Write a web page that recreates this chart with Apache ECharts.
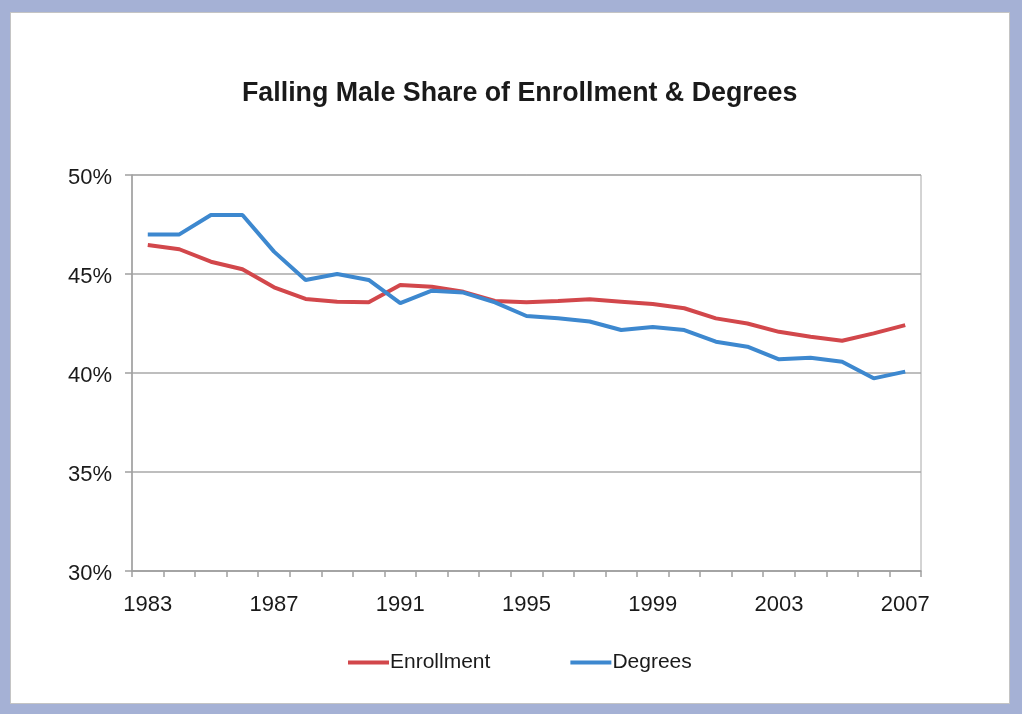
<!DOCTYPE html>
<html>
<head>
<meta charset="utf-8">
<script src="https://cdn.jsdelivr.net/npm/echarts@6/dist/echarts.min.js"></script>
<style>
html,body{margin:0;padding:0;width:1022px;height:714px;overflow:hidden;background:#a5b1d5;}
#frame{position:absolute;left:10px;top:12px;width:998px;height:690px;background:#fff;border:1px solid #c4c4c4;}
#chart{position:absolute;left:0;top:0;width:1022px;height:714px;}
</style>
</head>
<body>
<div id="frame"></div>
<div id="chart"></div>
<script>
const years = ['1983','1984','1985','1986','1987','1988','1989','1990','1991','1992','1993','1994','1995','1996','1997','1998','1999','2000','2001','2002','2003','2004','2005','2006','2007'];
const enrollment = [46.46,46.25,45.62,45.24,44.33,43.74,43.6,43.57,44.44,44.36,44.1,43.64,43.57,43.64,43.72,43.6,43.48,43.27,42.76,42.5,42.08,41.83,41.63,42.0,42.42];
const degrees = [47.0,47.0,47.98,47.98,46.13,44.7,45.0,44.7,43.53,44.16,44.06,43.57,42.88,42.76,42.6,42.17,42.32,42.17,41.58,41.33,40.69,40.77,40.57,39.73,40.07];
const titleText = 'Falling Male Share of Enrollment & Degrees';
const seriesNames = ['Enrollment','Degrees'];

const chart = echarts.init(document.getElementById('chart'));
const font = "'Liberation Sans', Arial, sans-serif";
chart.setOption({
  backgroundColor: 'transparent',
  animation: false,
  title: {
    text: titleText,
    left: 237,
    top: 75,
    textStyle: {fontFamily: font, fontSize: 26.8, fontWeight: 'bold', color: '#1a1a1a'}
  },
  legend: {
    data: seriesNames,
    bottom: 36,
    left: 343,
    icon: 'rect',
    itemWidth: 41,
    itemHeight: 4,
    itemGap: 80,
    textStyle: {fontFamily: font, fontSize: 21, color: '#1a1a1a', padding: [0,0,0,-4]}
  },
  grid: {
    left: 132, right: 101, top: 175, bottom: 143,
    show: true, borderColor: '#a8a8a8', borderWidth: 1, backgroundColor: 'transparent'
  },
  xAxis: {
    type: 'category',
    data: years,
    boundaryGap: true,
    axisLine: {lineStyle: {color: '#a0a0a0', width: 1.5}},
    axisTick: {show: true, interval: 0, length: 6, lineStyle: {color: '#a0a0a0', width: 1.5}},
    axisLabel: {interval: 3, margin: 23, fontFamily: font, fontSize: 22, color: '#1a1a1a'},
    splitLine: {show: false}
  },
  yAxis: {
    type: 'value',
    min: 30, max: 50, interval: 5,
    axisLine: {show: true, lineStyle: {color: '#a0a0a0', width: 1.5}},
    axisTick: {show: true, length: 7, lineStyle: {color: '#a0a0a0', width: 1.5}},
    axisLabel: {formatter: '{value}%', margin: 20, fontFamily: font, fontSize: 22, color: '#1a1a1a', verticalAlign: 'top', padding: [-8,0,0,0]},
    splitLine: {lineStyle: {color: '#a8a8a8', width: 1.5}}
  },
  series: [
    {name: seriesNames[0], type: 'line', data: enrollment, showSymbol: false, symbol: 'none',
     lineStyle: {color: '#d2474b', width: 4}, itemStyle: {color: '#d2474b'}},
    {name: seriesNames[1], type: 'line', data: degrees, showSymbol: false, symbol: 'none',
     lineStyle: {color: '#3d88cf', width: 4}, itemStyle: {color: '#3d88cf'}}
  ]
});
</script>
</body>
</html>
